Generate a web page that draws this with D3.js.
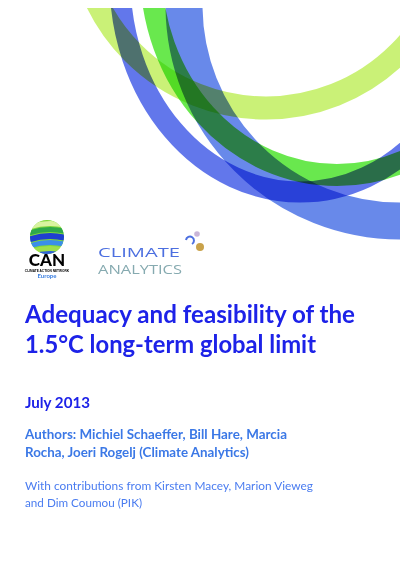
<!DOCTYPE html>
<html><head><meta charset="utf-8">
<script src="https://cdn.jsdelivr.net/npm/d3@7"></script>
<style>body{margin:0;background:#fff}svg{display:block}</style>
</head><body>
<script>
const bandNames=["lightGreen","darkBlue","green","lightBlue"];
const bandColors=["#b8ec4a","#3b55e6","#3fe11c","#3d68e4"];
const bandOpacity=[0.75,0.8,0.78,0.78];
const titleLines=["Adequacy and feasibility of the","1.5°C long-term global limit"];
const dateLine=["July 2013"];
const authorLines=["Authors: Michiel Schaeffer, Bill Hare, Marcia","Rocha, Joeri Rogelj (Climate Analytics)"];
const contribLines=["With contributions from Kirsten Macey, Marion Vieweg","and Dim Coumou (PIK)"];

// geometry (layout, not data)
const bandGeom=[{cx:266,cy:-80,rx:188,ry:188,w:23},{cx:300,cy:-20,rx:180,ry:212,w:21},{cx:337,cy:-30,rx:186,ry:205,w:22},{cx:400,cy:5,rx:216,ry:216,w:37}];

const svg=d3.select("body").append("svg").attr("width",400).attr("height",565);
svg.append("defs").append("clipPath").attr("id","c").append("rect").attr("x",0).attr("y",8).attr("width",400).attr("height",300);
const g=svg.append("g").attr("clip-path","url(#c)");
g.selectAll("ellipse").data(bandNames).join("ellipse")
 .attr("cx",(d,i)=>bandGeom[i].cx).attr("cy",(d,i)=>bandGeom[i].cy)
 .attr("rx",(d,i)=>bandGeom[i].rx).attr("ry",(d,i)=>bandGeom[i].ry)
 .attr("fill","none").attr("stroke",(d,i)=>bandColors[i]).attr("stroke-width",(d,i)=>bandGeom[i].w)
 .attr("stroke-opacity",(d,i)=>bandOpacity[i]).style("mix-blend-mode","multiply");

// CAN logo
const can=svg.append("g");
can.append("clipPath").attr("id","cc").append("circle").attr("cx",47).attr("cy",237).attr("r",17);
const cg=can.append("g").attr("clip-path","url(#cc)");
cg.append("rect").attr("x",28).attr("y",218).attr("width",40).attr("height",40).attr("fill","#7ed83a");
[["#d9f3a0",221,5],["#2fa84a",227,5],["#1f3fd0",233,6],["#3a8ee8",240,5],["#9fe04a",246,5],["#2f60d8",251,6]].forEach(([c,y,h],i)=>{
 cg.append("path").attr("d",`M28,${y+4} Q47,${y-3} 66,${y+2} L66,${y+2+h} Q47,${y-3+h} 28,${y+4+h}Z`).attr("fill",c);});
can.append("text").attr("x",47).attr("y",266).attr("text-anchor","middle").attr("font-family","Lato").attr("font-weight","900").attr("font-size",17).text("CAN");
can.append("text").attr("x",47).attr("y",271.5).attr("text-anchor","middle").attr("font-family","Liberation Sans").attr("font-weight","bold").attr("font-size",3.2).text("CLIMATE ACTION NETWORK");
can.append("text").attr("x",47).attr("y",278).attr("text-anchor","middle").attr("font-family","Lato").attr("font-weight","bold").attr("font-size",6).attr("fill","#3b7fe0").text("Europe");

// Climate Analytics logo
svg.append("text").attr("x",98).attr("y",257).attr("font-family","Open Sans").attr("font-size",12.5).attr("fill","#4c6fe0").attr("textLength",82).attr("lengthAdjust","spacingAndGlyphs").text("CLIMATE");
svg.append("text").attr("x",98).attr("y",273.5).attr("font-family","Open Sans").attr("font-size",12).attr("fill","#86aab0").attr("textLength",84).attr("lengthAdjust","spacingAndGlyphs").text("ANALYTICS");
svg.append("path").attr("d","M186,240 A4,4 0 1,1 192,244").attr("fill","none").attr("stroke","#4c6fe0").attr("stroke-width",2);
svg.append("circle").attr("cx",197).attr("cy",234).attr("r",2.8).attr("fill","#c9b6d8");
svg.append("circle").attr("cx",200).attr("cy",247).attr("r",4).attr("fill","#c9a24a");

function block(lines,y0,dy,size,weight,color,widths){
 svg.append("g").selectAll("text").data(lines).join("text")
  .attr("x",25).attr("y",(d,i)=>y0+i*dy).attr("font-family","Lato").attr("font-weight",weight)
  .attr("font-size",size).attr("fill",color).attr("textLength",(d,i)=>widths[i]).attr("lengthAdjust","spacingAndGlyphs").text(d=>d);
}
block(titleLines,323,30,24,"bold","#1d22e8",[330,291]);
block(dateLine,408,0,16,"bold","#1d22e8",[65]);
block(authorLines,439,18,13.5,"bold","#3b78e6",[262,224]);
block(contribLines,490,17,12,"normal","#4a7cf0",[288,117]);
</script>
</body></html>
